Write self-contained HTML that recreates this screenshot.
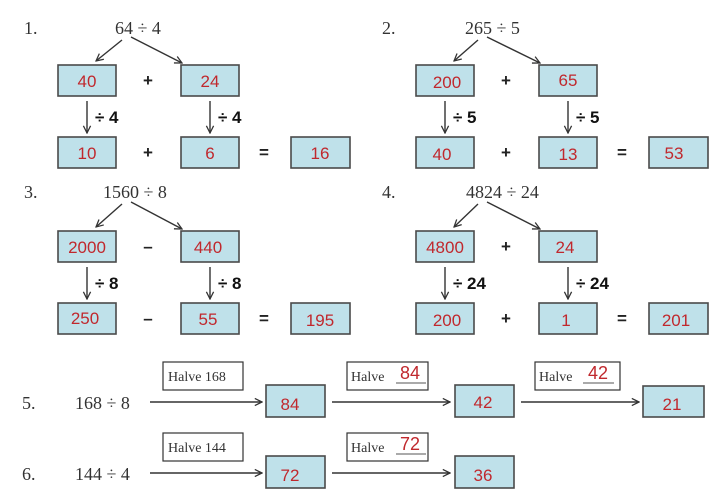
<!DOCTYPE html>
<html><head><meta charset="utf-8"><style>
html,body{margin:0;padding:0;background:#fff;}
svg{display:block;}
.t{font-family:"Liberation Serif",serif;font-size:18px;fill:#333;}
.n{font-family:"Liberation Sans",sans-serif;font-size:17px;fill:#c0282d;text-anchor:middle;}
.b{fill:#bfe1ea;stroke:#4a4a4a;stroke-width:1.6;}
.op{font-family:"Liberation Sans",sans-serif;font-size:17px;font-weight:bold;fill:#222;text-anchor:middle;}
.d{font-family:"Liberation Sans",sans-serif;font-size:17px;font-weight:bold;fill:#111;}
.l{stroke:#333;stroke-width:1.4;fill:none;}
.lb{fill:#fff;stroke:#333;stroke-width:1.2;}
.hs{font-family:"Liberation Serif",serif;font-size:14px;fill:#333;}
</style></head><body>
<svg width="721" height="497" viewBox="0 0 721 497" xmlns="http://www.w3.org/2000/svg">
<defs>
<marker id="a" viewBox="0 0 10 10" refX="9" refY="5" markerWidth="9" markerHeight="9" orient="auto" markerUnits="userSpaceOnUse">
<path d="M1,1 L9,5 L1,9" fill="none" stroke="#333" stroke-width="1.4"/></marker>
</defs>

<g>
<text class="t" x="24" y="34">1.</text>
<text class="t" x="115" y="34">64 ÷ 4</text>
<line class="l" x1="122" y1="40" x2="96" y2="61" marker-end="url(#a)"/>
<line class="l" x1="131" y1="37" x2="182" y2="63" marker-end="url(#a)"/>
<rect class="b" x="58" y="65" width="58" height="31"/><text class="n" x="87" y="87">40</text>
<text class="op" x="148" y="86">+</text>
<rect class="b" x="181" y="65" width="58" height="31"/><text class="n" x="210" y="87">24</text>
<line class="l" x1="87" y1="101" x2="87" y2="133" marker-end="url(#a)"/><text class="d" x="95" y="123">÷ 4</text>
<line class="l" x1="210" y1="101" x2="210" y2="133" marker-end="url(#a)"/><text class="d" x="218" y="123">÷ 4</text>
<rect class="b" x="58" y="137" width="58" height="31"/><text class="n" x="87" y="159">10</text>
<text class="op" x="148" y="158">+</text>
<rect class="b" x="181" y="137" width="58" height="31"/><text class="n" x="210" y="159">6</text>
<text class="op" x="264" y="158">=</text>
<rect class="b" x="291" y="137" width="59" height="31"/><text class="n" x="320" y="159">16</text>
</g>

<g transform="translate(358,0)">
<text class="t" x="24" y="34">2.</text>
<text class="t" x="107" y="34">265 ÷ 5</text>
<line class="l" x1="120" y1="40" x2="96" y2="61" marker-end="url(#a)"/>
<line class="l" x1="129" y1="37" x2="182" y2="63" marker-end="url(#a)"/>
<rect class="b" x="58" y="65" width="58" height="31"/><text class="n" x="89" y="88">200</text>
<text class="op" x="148" y="86">+</text>
<rect class="b" x="181" y="65" width="58" height="31"/><text class="n" x="210" y="86">65</text>
<line class="l" x1="87" y1="101" x2="87" y2="133" marker-end="url(#a)"/><text class="d" x="95" y="123">÷ 5</text>
<line class="l" x1="210" y1="101" x2="210" y2="133" marker-end="url(#a)"/><text class="d" x="218" y="123">÷ 5</text>
<rect class="b" x="58" y="137" width="58" height="31"/><text class="n" x="84" y="160">40</text>
<text class="op" x="148" y="158">+</text>
<rect class="b" x="181" y="137" width="58" height="31"/><text class="n" x="210" y="160">13</text>
<text class="op" x="264" y="158">=</text>
<rect class="b" x="291" y="137" width="59" height="31"/><text class="n" x="316" y="159">53</text>
</g>

<g transform="translate(0,166)">
<text class="t" x="24" y="32">3.</text>
<text class="t" x="103" y="32">1560 ÷ 8</text>
<line class="l" x1="122" y1="38" x2="96" y2="61" marker-end="url(#a)"/>
<line class="l" x1="131" y1="36" x2="182" y2="63" marker-end="url(#a)"/>
<rect class="b" x="58" y="65" width="58" height="31"/><text class="n" x="87" y="87">2000</text>
<text class="op" x="148" y="86">–</text>
<rect class="b" x="181" y="65" width="58" height="31"/><text class="n" x="208" y="87">440</text>
<line class="l" x1="87" y1="101" x2="87" y2="133" marker-end="url(#a)"/><text class="d" x="95" y="123">÷ 8</text>
<line class="l" x1="210" y1="101" x2="210" y2="133" marker-end="url(#a)"/><text class="d" x="218" y="123">÷ 8</text>
<rect class="b" x="58" y="137" width="58" height="31"/><text class="n" x="85" y="158">250</text>
<text class="op" x="148" y="158">–</text>
<rect class="b" x="181" y="137" width="58" height="31"/><text class="n" x="208" y="159">55</text>
<text class="op" x="264" y="158">=</text>
<rect class="b" x="291" y="137" width="59" height="31"/><text class="n" x="320" y="160">195</text>
</g>

<g transform="translate(358,166)">
<text class="t" x="24" y="32">4.</text>
<text class="t" x="108" y="32">4824 ÷ 24</text>
<line class="l" x1="120" y1="38" x2="96" y2="61" marker-end="url(#a)"/>
<line class="l" x1="129" y1="36" x2="182" y2="63" marker-end="url(#a)"/>
<rect class="b" x="58" y="65" width="58" height="31"/><text class="n" x="87" y="87">4800</text>
<text class="op" x="148" y="86">+</text>
<rect class="b" x="181" y="65" width="58" height="31"/><text class="n" x="207" y="87">24</text>
<line class="l" x1="87" y1="101" x2="87" y2="133" marker-end="url(#a)"/><text class="d" x="95" y="123">÷ 24</text>
<line class="l" x1="210" y1="101" x2="210" y2="133" marker-end="url(#a)"/><text class="d" x="218" y="123">÷ 24</text>
<rect class="b" x="58" y="137" width="58" height="31"/><text class="n" x="89" y="160">200</text>
<text class="op" x="148" y="158">+</text>
<rect class="b" x="181" y="137" width="58" height="31"/><text class="n" x="208" y="160">1</text>
<text class="op" x="264" y="158">=</text>
<rect class="b" x="291" y="137" width="59" height="31"/><text class="n" x="318" y="160">201</text>
</g>

<text class="t" x="22" y="409">5.</text>
<text class="t" x="75" y="409">168 ÷ 8</text>
<rect class="lb" x="163" y="362" width="80" height="28"/><text class="hs" x="168" y="381">Halve 168</text>
<line class="l" x1="150" y1="402" x2="262" y2="402" marker-end="url(#a)"/>
<rect class="b" x="266" y="385" width="59" height="32"/><text class="n" x="290" y="410">84</text>
<rect class="lb" x="347" y="362" width="81" height="28"/><text class="hs" x="351" y="381">Halve</text>
<text class="n" x="410" y="379" style="font-size:18px">84</text><line x1="396" y1="383" x2="426" y2="383" stroke="#555" stroke-width="1"/>
<line class="l" x1="332" y1="402" x2="450" y2="402" marker-end="url(#a)"/>
<rect class="b" x="455" y="385" width="59" height="32"/><text class="n" x="483" y="408">42</text>
<rect class="lb" x="535" y="362" width="85" height="28"/><text class="hs" x="539" y="381">Halve</text>
<text class="n" x="598" y="379" style="font-size:18px">42</text><line x1="583" y1="383" x2="614" y2="383" stroke="#555" stroke-width="1"/>
<line class="l" x1="521" y1="402" x2="639" y2="402" marker-end="url(#a)"/>
<rect class="b" x="643" y="386" width="61" height="31"/><text class="n" x="672" y="410">21</text>

<text class="t" x="22" y="480">6.</text>
<text class="t" x="75" y="480">144 ÷ 4</text>
<rect class="lb" x="163" y="433" width="80" height="28"/><text class="hs" x="168" y="452">Halve 144</text>
<line class="l" x1="150" y1="473" x2="262" y2="473" marker-end="url(#a)"/>
<rect class="b" x="266" y="456" width="59" height="32"/><text class="n" x="290" y="481">72</text>
<rect class="lb" x="347" y="433" width="81" height="28"/><text class="hs" x="351" y="452">Halve</text>
<text class="n" x="410" y="450" style="font-size:18px">72</text><line x1="396" y1="454" x2="426" y2="454" stroke="#555" stroke-width="1"/>
<line class="l" x1="332" y1="473" x2="450" y2="473" marker-end="url(#a)"/>
<rect class="b" x="455" y="456" width="59" height="32"/><text class="n" x="483" y="481">36</text>
</svg>
</body></html>
